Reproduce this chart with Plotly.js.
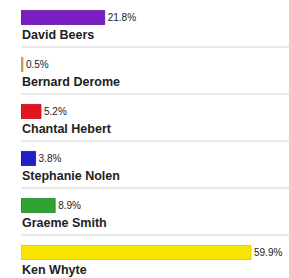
<!DOCTYPE html>
<html>
<head>
<meta charset="utf-8">
<script src="https://cdn.plot.ly/plotly-3.0.1.min.js"></script>
<style>html,body{margin:0;padding:0;background:#fff;}#chart{width:289px;height:278px;}</style>
</head>
<body>
<div id="chart"></div>
<script>
const names = ["David Beers", "Bernard Derome", "Chantal Hebert", "Stephanie Nolen", "Graeme Smith", "Ken Whyte"];
const values = [21.8, 0.5, 5.2, 3.8, 8.9, 59.9];
const valueLabels = ["21.8%", "0.5%", "5.2%", "3.8%", "8.9%", "59.9%"];
const colors = ["#7a1ec2", "#dca862", "#e4141f", "#2020c6", "#30a232", "#f8e600"];
const borders = ["#5e1498", "#c08a40", "#b80e18", "#14149a", "#22842a", "#d8c400"];

const idx = names.map((_, i) => i);

const trace = {
  type: "bar",
  orientation: "h",
  x: values,
  y: idx,
  width: 0.3,
  marker: { color: colors, line: { color: borders, width: 0.8 } },
  text: valueLabels,
  textposition: "outside",
  cliponaxis: false,
  textfont: { family: "Liberation Sans, Arial, sans-serif", size: 10, color: "#222" },
  hoverinfo: "none"
};

const annotations = names.map((n, i) => ({
  x: 0, y: i + 0.372, xref: "x", yref: "y",
  text: "<b>" + n + "</b>", showarrow: false,
  xanchor: "left", yanchor: "middle", xshift: -1,
  font: { family: "Liberation Sans, Arial, sans-serif", size: 12.5, color: "#222" }
}));

const shapes = names.slice(0, -1).map((_, i) => ({
  type: "line", xref: "paper", yref: "y",
  x0: 0, x1: 1, y0: i + 0.628, y1: i + 0.628,
  line: { color: "#d4d4d4", width: 1 }
}));

const layout = {
  width: 289, height: 278,
  margin: { l: 21, r: 0, t: 0, b: 0 },
  paper_bgcolor: "#fff", plot_bgcolor: "#fff",
  showlegend: false,
  xaxis: { range: [0, 69.8], visible: false, showgrid: false, zeroline: false, fixedrange: true },
  yaxis: { range: [5.543, -0.372], visible: false, showgrid: false, zeroline: false, fixedrange: true },
  annotations: annotations,
  shapes: shapes
};

Plotly.newPlot("chart", [trace], layout, { displayModeBar: false, staticPlot: true });
</script>
</body>
</html>
